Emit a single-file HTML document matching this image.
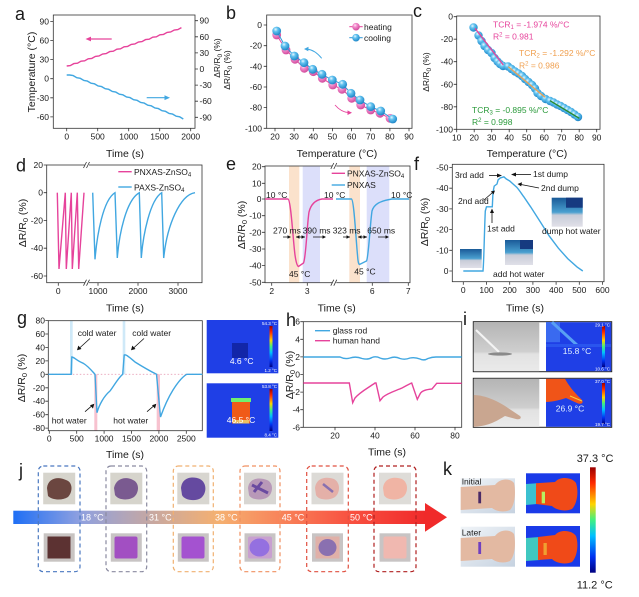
<!DOCTYPE html>
<html><head><meta charset="utf-8"><style>
body{margin:0;background:#fff}
svg{display:block}
text{font-family:"Liberation Sans",Arial,sans-serif;fill:#1a1a1a}
.tk{font-size:8.5px}
.tl{font-size:10.5px}
.lt{font-size:18px}
.an{font-size:8.5px}
.sm{font-size:4.5px;fill:#fff}
.ax{fill:none;stroke:#333;stroke-width:0.8}
.tm{stroke:#333;stroke-width:0.8;fill:none}
.pk{fill:none;stroke:#e6439b;stroke-width:1.4}
.bl{fill:none;stroke:#41a7e1;stroke-width:1.4}
</style></head><body>
<svg width="639" height="597" viewBox="0 0 639 597" xmlns="http://www.w3.org/2000/svg">
<defs>
<radialGradient id="gb" cx="38%" cy="32%" r="70%"><stop offset="0" stop-color="#e8f7ff"/><stop offset="0.35" stop-color="#63c3f0"/><stop offset="1" stop-color="#1b84c6"/></radialGradient>
<radialGradient id="gp" cx="38%" cy="32%" r="70%"><stop offset="0" stop-color="#ffe6f4"/><stop offset="0.35" stop-color="#f28ccc"/><stop offset="1" stop-color="#d0479a"/></radialGradient>
<linearGradient id="cb" x1="0" y1="0" x2="0" y2="1"><stop offset="0" stop-color="#9a0000"/><stop offset="0.15" stop-color="#ff2a00"/><stop offset="0.35" stop-color="#ffd400"/><stop offset="0.5" stop-color="#40f080"/><stop offset="0.65" stop-color="#00c0ff"/><stop offset="0.85" stop-color="#0030f0"/><stop offset="1" stop-color="#000080"/></linearGradient>
<linearGradient id="arr" x1="0" y1="0" x2="1" y2="0"><stop offset="0" stop-color="#1f6ff5"/><stop offset="0.16" stop-color="#8ea0e0"/><stop offset="0.34" stop-color="#c8a8a0"/><stop offset="0.5" stop-color="#f5b070"/><stop offset="0.66" stop-color="#f88058"/><stop offset="0.82" stop-color="#f85040"/><stop offset="1" stop-color="#f02a2a"/></linearGradient>
<linearGradient id="fi" x1="0" y1="0" x2="0" y2="1"><stop offset="0" stop-color="#1a5a98"/><stop offset="0.5" stop-color="#4aa0d0"/><stop offset="0.6" stop-color="#c8ccd8"/><stop offset="1" stop-color="#e0e0e8"/></linearGradient>
<linearGradient id="ph" x1="0" y1="0" x2="0" y2="1"><stop offset="0" stop-color="#b4b4b4"/><stop offset="0.6" stop-color="#cfcfcf"/><stop offset="0.65" stop-color="#e2e2e2"/><stop offset="1" stop-color="#eaeaea"/></linearGradient>
<linearGradient id="hb" x1="0" y1="0" x2="1" y2="1"><stop offset="0" stop-color="#f0f4f8"/><stop offset="1" stop-color="#c6d2e0"/></linearGradient>
</defs>

<!-- ============ a ============ -->
<text class="lt" x="15" y="20">a</text>
<rect class="ax" x="53.3" y="15" width="141.7" height="113.3"/>
<path class="tm" d="M50.3,21.4h3M50.3,40.5h3M50.3,59.6h3M50.3,78.7h3M50.3,97.8h3M50.3,116.9h3M195,20.7h3M195,36.8h3M195,52.9h3M195,69h3M195,85.1h3M195,101.2h3M195,117.3h3M66.7,128.3v3M97.7,128.3v3M128.7,128.3v3M159.7,128.3v3M190.7,128.3v3"/>
<g class="tk" text-anchor="end"><text x="49" y="24.4">90</text><text x="49" y="43.5">60</text><text x="49" y="62.6">30</text><text x="49" y="81.7">0</text><text x="49" y="100.8">-30</text><text x="49" y="119.9">-60</text></g>
<g class="tk"><text x="199.5" y="23.7">90</text><text x="199.5" y="39.8">60</text><text x="199.5" y="55.9">30</text><text x="199.5" y="72">0</text><text x="199.5" y="88.1">-30</text><text x="199.5" y="104.2">-60</text><text x="199.5" y="120.3">-90</text></g>
<g class="tk" text-anchor="middle"><text x="66.7" y="139.5">0</text><text x="97.7" y="139.5">500</text><text x="128.7" y="139.5">1000</text><text x="159.7" y="139.5">1500</text><text x="190.7" y="139.5">2000</text></g>
<text class="tl" x="125" y="157" text-anchor="middle">Time (s)</text>
<text class="tl" transform="translate(35,72) rotate(-90)" text-anchor="middle">Temperature (°C)</text>
<text class="tk" transform="translate(220,58) rotate(-90)" text-anchor="middle" font-size="9.5">ΔR/R<tspan font-size="6.5" dy="2">0</tspan><tspan dy="-2"> (%)</tspan></text>
<path class="pk" d="M66.7,66 l3.6,-0.4 l3.57,-2 l3.6,-0.4 l3.57,-2 l3.6,-0.4 l3.57,-2 l3.6,-0.4 l3.57,-2 l3.6,-0.4 l3.57,-2 l3.6,-0.4 l3.57,-2 l3.6,-0.4 l3.57,-2 l3.6,-0.4 l3.57,-2 l3.6,-0.4 l3.57,-2 l3.6,-0.4 l3.57,-2 l3.6,-0.4 l3.57,-2 l3.6,-0.4 l3.57,-2 l3.6,-0.4 l3.57,-2 l3.6,-0.4 l3.57,-2 l3.6,-0.4 l3.57,-2 l3.6,-0.4 l3.57,-2"/>
<path class="bl" d="M66.7,75 l3,0 l3.5,0.6 l3.6,2.15 l3.5,0.6 l3.6,2.15 l3.5,0.6 l3.6,2.15 l3.5,0.6 l3.6,2.15 l3.5,0.6 l3.6,2.15 l3.5,0.6 l3.6,2.15 l3.5,0.6 l3.6,2.15 l3.5,0.6 l3.6,2.15 l3.5,0.6 l3.6,2.15 l3.5,0.6 l3.6,2.15 l3.5,0.6 l3.6,2.15 l3.5,0.6 l3.6,2.15 l3.5,0.6 l3.6,2.15 l3.5,0.6 l3.6,2.15 l3.5,0.6 l3.6,2.15 l3.5,0.6 l3.6,2.15"/>
<path d="M111.7,39H89" stroke="#e6439b" stroke-width="1.2"/><polygon points="85.5,39 91,36.6 91,41.4" fill="#e6439b"/>
<path d="M146.7,97.7H166" stroke="#41a7e1" stroke-width="1.2"/><polygon points="170,97.7 164.5,95.3 164.5,100.1" fill="#41a7e1"/>

<!-- ============ b ============ -->
<text class="lt" x="226" y="19">b</text>
<text class="tk" transform="translate(230,70) rotate(-90)" text-anchor="middle" font-size="9.5">ΔR/R<tspan font-size="6.5" dy="2">0</tspan><tspan dy="-2"> (%)</tspan></text>
<rect class="ax" x="266.7" y="15" width="145.3" height="113.3"/>
<path class="tm" d="M263.7,25h3M263.7,45.7h3M263.7,66.3h3M263.7,87h3M263.7,107.6h3M263.7,128.3h3M275,128.3v3M294.1,128.3v3M313.3,128.3v3M332.4,128.3v3M351.6,128.3v3M370.7,128.3v3M389.9,128.3v3M409,128.3v3"/>
<g class="tk" text-anchor="end"><text x="262" y="28">0</text><text x="262" y="48.7">-20</text><text x="262" y="69.3">-40</text><text x="262" y="90">-60</text><text x="262" y="110.6">-80</text><text x="262" y="131.3">-100</text></g>
<g class="tk" text-anchor="middle"><text x="275" y="139.5">20</text><text x="294.1" y="139.5">30</text><text x="313.3" y="139.5">40</text><text x="332.4" y="139.5">50</text><text x="351.6" y="139.5">60</text><text x="370.7" y="139.5">70</text><text x="389.9" y="139.5">80</text><text x="409" y="139.5">90</text></g>
<text class="tl" x="337" y="157" text-anchor="middle">Temperature (°C)</text>
<polyline fill="none" stroke="#e6439b" stroke-width="1" points="276.7,35 286,50 295,59.3 304.3,68.3 313.3,71.7 322.3,78.3 332.7,85 342,89.3 351.7,98.3 360.7,105 370.7,110 380,113.3 390,118.3"/>
<g fill="url(#gp)"><circle cx="276.7" cy="35" r="4.4"/><circle cx="286" cy="50" r="4.4"/><circle cx="295" cy="59.3" r="4.4"/><circle cx="304.3" cy="68.3" r="4.4"/><circle cx="313.3" cy="71.7" r="4.4"/><circle cx="322.3" cy="78.3" r="4.4"/><circle cx="332.7" cy="85" r="4.4"/><circle cx="342" cy="89.3" r="4.4"/><circle cx="351.7" cy="98.3" r="4.4"/><circle cx="360.7" cy="105" r="4.4"/><circle cx="370.7" cy="110" r="4.4"/><circle cx="380" cy="113.3" r="4.4"/><circle cx="390" cy="118.3" r="4.4"/></g>
<polyline fill="none" stroke="#2f96d6" stroke-width="1" points="276.7,31 285,46 294.3,56 304,62.7 312.7,69.3 322,74.3 332.3,80 342.7,84.3 351,93.3 360,100 370.7,106.7 380.7,111 392.7,119"/>
<g fill="url(#gb)"><circle cx="276.7" cy="31" r="4.4"/><circle cx="285" cy="46" r="4.4"/><circle cx="294.3" cy="56" r="4.4"/><circle cx="304" cy="62.7" r="4.4"/><circle cx="312.7" cy="69.3" r="4.4"/><circle cx="322" cy="74.3" r="4.4"/><circle cx="332.3" cy="80" r="4.4"/><circle cx="342.7" cy="84.3" r="4.4"/><circle cx="351" cy="93.3" r="4.4"/><circle cx="360" cy="100" r="4.4"/><circle cx="370.7" cy="106.7" r="4.4"/><circle cx="380.7" cy="111" r="4.4"/><circle cx="392.7" cy="119" r="4.4"/></g>
<path d="M349.3,26.7h13.4" stroke="#e6439b" stroke-width="1"/><circle cx="356" cy="26.7" r="3.8" fill="url(#gp)"/>
<path d="M349.3,37.7h13.4" stroke="#2f96d6" stroke-width="1"/><circle cx="356" cy="37.7" r="3.8" fill="url(#gb)"/>
<text class="an" x="364" y="30">heating</text><text class="an" x="364" y="41">cooling</text>
<path d="M321.7,58.3 Q315,50 307,49" fill="none" stroke="#41a7e1" stroke-width="0.9"/><polygon points="304,49 308.5,46.8 308.3,51.2" fill="#41a7e1"/>
<path d="M335,105 Q341,112 348.5,112.6" fill="none" stroke="#e6439b" stroke-width="0.9"/><polygon points="352,112.7 347.5,110.4 347.5,115" fill="#e6439b"/>

<!-- ============ c ============ -->
<text class="lt" x="413" y="17">c</text>
<rect class="ax" x="456.7" y="16" width="143.3" height="113.3"/>
<path class="tm" d="M453.7,16.7h3M453.7,39.2h3M453.7,61.7h3M453.7,84.3h3M453.7,106.8h3M453.7,129.3h3M456.7,129.3v3M474.2,129.3v3M491.7,129.3v3M509.2,129.3v3M526.7,129.3v3M544.2,129.3v3M561.7,129.3v3M579.2,129.3v3M596.7,129.3v3"/>
<g class="tk" text-anchor="end"><text x="453" y="19.7">0</text><text x="453" y="42.2">-20</text><text x="453" y="64.7">-40</text><text x="453" y="87.3">-60</text><text x="453" y="109.8">-80</text><text x="453" y="132.3">-100</text></g>
<g class="tk" text-anchor="middle"><text x="456.7" y="140.5">10</text><text x="474.2" y="140.5">20</text><text x="491.7" y="140.5">30</text><text x="509.2" y="140.5">40</text><text x="526.7" y="140.5">50</text><text x="544.2" y="140.5">60</text><text x="561.7" y="140.5">70</text><text x="579.2" y="140.5">80</text><text x="596.7" y="140.5">90</text></g>
<text class="tl" x="527" y="157" text-anchor="middle">Temperature (°C)</text>
<text class="tk" transform="translate(429,72) rotate(-90)" text-anchor="middle" font-size="9.5">ΔR/R<tspan font-size="6.5" dy="2">0</tspan><tspan dy="-2"> (%)</tspan></text>
<g fill="url(#gb)"><circle cx="473.5" cy="27.5" r="4.2"/><circle cx="478.5" cy="35.5" r="4.2"/><circle cx="481.5" cy="41" r="4.2"/><circle cx="484.5" cy="46" r="4.2"/><circle cx="488" cy="50" r="4.2"/><circle cx="491.5" cy="53" r="4.2"/><circle cx="494.5" cy="58" r="4.2"/><circle cx="497.5" cy="61.5" r="4.2"/><circle cx="500" cy="64" r="4.2"/><circle cx="503" cy="66" r="4.2"/><circle cx="508" cy="66.5" r="4.2"/><circle cx="511.5" cy="69" r="4.2"/><circle cx="515" cy="71.5" r="4.2"/><circle cx="518.5" cy="73.5" r="4.2"/><circle cx="522" cy="76" r="4.2"/><circle cx="525" cy="79" r="4.2"/><circle cx="528.5" cy="82" r="4.2"/><circle cx="532" cy="85" r="4.2"/><circle cx="535" cy="88.5" r="4.2"/><circle cx="537.5" cy="93" r="4.2"/><circle cx="541" cy="96" r="4.2"/><circle cx="545.5" cy="99" r="4.2"/><circle cx="550" cy="101" r="4.2"/><circle cx="553.5" cy="102.5" r="4.2"/><circle cx="557" cy="104.5" r="4.2"/><circle cx="560.5" cy="106" r="4.2"/><circle cx="564" cy="108" r="4.2"/><circle cx="567.5" cy="110" r="4.2"/><circle cx="571" cy="112" r="4.2"/><circle cx="574.5" cy="114.5" r="4.2"/><circle cx="578" cy="117" r="4.2"/></g>
<path d="M475,28.3L503.3,65" stroke="#e6439b" stroke-width="1.3"/>
<path d="M508.3,66.7L545,97.3" stroke="#f0a050" stroke-width="1.3"/>
<path d="M550,100.7L579.3,118.3" stroke="#2a8a2a" stroke-width="1.3"/>
<g class="an"><text x="493" y="27.7" style="fill:#e6439b">TCR<tspan font-size="6" dy="1.5">1</tspan><tspan dy="-1.5"> = -1.974 %/°C</tspan></text>
<text x="493" y="39.7" style="fill:#e6439b">R<tspan font-size="6" dy="-3">2</tspan><tspan dy="3"> = 0.981</tspan></text>
<text x="519" y="56" style="fill:#f0a050">TCR<tspan font-size="6" dy="1.5">2</tspan><tspan dy="-1.5"> = -1.292 %/°C</tspan></text>
<text x="519" y="68.7" style="fill:#f0a050">R<tspan font-size="6" dy="-3">2</tspan><tspan dy="3"> = 0.986</tspan></text>
<text x="472" y="113" style="fill:#2a9a3a">TCR<tspan font-size="6" dy="1.5">3</tspan><tspan dy="-1.5"> = -0.895 %/°C</tspan></text>
<text x="472" y="125" style="fill:#2a9a3a">R<tspan font-size="6" dy="-3">2</tspan><tspan dy="3"> = 0.998</tspan></text></g>

<!-- ============ d ============ -->
<text class="lt" x="16" y="171.5">d</text>
<rect class="ax" x="46.7" y="165" width="155.3" height="117.7"/>
<rect x="85" y="162" width="4" height="6" fill="#fff"/><rect x="85" y="279.7" width="4" height="6" fill="#fff"/>
<path class="tm" d="M83.5,168l3,-6M86.5,168l3,-6M83.5,285.7l3,-6M86.5,285.7l3,-6"/>
<path class="tm" d="M43.7,165h3M43.7,192.7h3M43.7,220.5h3M43.7,248.2h3M43.7,276h3M58.3,282.7v3M98,282.7v3M138,282.7v3M178,282.7v3"/>
<g class="tk" text-anchor="end"><text x="43" y="168">20</text><text x="43" y="195.7">0</text><text x="43" y="223.5">-20</text><text x="43" y="251.2">-40</text><text x="43" y="279">-60</text></g>
<g class="tk" text-anchor="middle"><text x="58.3" y="294">0</text><text x="98" y="294">1000</text><text x="138" y="294">2000</text><text x="178" y="294">3000</text></g>
<text class="tl" x="125" y="311.7" text-anchor="middle">Time (s)</text>
<text class="tl" transform="translate(26,223) rotate(-90)" text-anchor="middle">ΔR/R<tspan font-size="7.5" dy="2">0</tspan><tspan dy="-2"> (%)</tspan></text>
<polyline class="pk" points="57.3,192.7 59,269 65.3,192.7 66.3,269 71.3,192.7 72.3,269 77.3,192.7 78.7,269 84,192.7"/>
<path class="bl" d="M92.7,192.7 L95,259.3 C97,235 103,200 115,192.7 L117.3,258 C119,235 126,200 139.3,192.7 L141.3,258 C143,235 150,200 161.7,192.7 L163.7,258 C167,225 180,195 195,192.7"/>
<path d="M118.3,171.7h13.4" stroke="#e6439b" stroke-width="1.4"/><path d="M118.3,187h13.4" stroke="#41a7e1" stroke-width="1.4"/>
<text class="an" x="134" y="175">PNXAS-ZnSO<tspan font-size="6" dy="1.5">4</tspan></text>
<text class="an" x="134" y="190.3">PAXS-ZnSO<tspan font-size="6" dy="1.5">4</tspan></text>

<!-- ============ e ============ -->
<text class="lt" x="226" y="170">e</text>
<rect x="289" y="166" width="10.3" height="116.7" fill="#fbe2cc"/>
<rect x="302.7" y="166" width="17.3" height="116.7" fill="#dcdffa"/>
<rect x="349.3" y="166" width="10.7" height="116.7" fill="#fbe2cc"/>
<rect x="366.7" y="166" width="22.6" height="116.7" fill="#dcdffa"/>
<rect class="ax" x="265" y="166" width="145" height="116.7"/>
<rect x="332.3" y="163" width="4" height="6" fill="#fff"/><rect x="332.3" y="279.7" width="4" height="6" fill="#fff"/>
<path class="tm" d="M330.8,169l3,-6M333.8,169l3,-6M330.8,285.7l3,-6M333.8,285.7l3,-6"/>
<path class="tm" d="M262,166.7h3M262,183.3h3M262,199h3M262,215.7h3M262,232.3h3M262,249h3M262,265.6h3M262,282.3h3M271.7,282.7v3M307.3,282.7v3M372.3,282.7v3M408.3,282.7v3"/>
<g class="tk" text-anchor="end"><text x="261.5" y="169.7">20</text><text x="261.5" y="186.3">10</text><text x="261.5" y="202">0</text><text x="261.5" y="218.7">-10</text><text x="261.5" y="235.3">-20</text><text x="261.5" y="252">-30</text><text x="261.5" y="268.6">-40</text><text x="261.5" y="285.3">-50</text></g>
<g class="tk" text-anchor="middle"><text x="271.7" y="294">2</text><text x="307.3" y="294">3</text><text x="372.3" y="294">6</text><text x="408.3" y="294">7</text></g>
<text class="tl" x="336.7" y="311.7" text-anchor="middle">Time (s)</text>
<text class="tl" transform="translate(245,225) rotate(-90)" text-anchor="middle">ΔR/R<tspan font-size="7.5" dy="2">0</tspan><tspan dy="-2"> (%)</tspan></text>
<path class="pk" d="M265,199 L288,199 C291,200 293,240 295,255 C296,262 297,266 298.5,266.5 L303.5,263 C306,258 307,225 309,212 C311,204 316,200 322,199 L333,199"/>
<path class="bl" d="M336,199 L351.5,199 C354,200 356,240 357.5,255 C358,262 358.5,264 359.5,264.5 L366.5,261 C368.5,258 370,225 372,211 C374,204 380,201 392,199 L409,199"/>
<path d="M331.7,173.3h13.3" stroke="#e6439b" stroke-width="1.4"/><path d="M331.7,185h13.3" stroke="#41a7e1" stroke-width="1.4"/>
<text class="an" x="347" y="176.5">PNXAS-ZnSO<tspan font-size="6" dy="1.5">4</tspan></text>
<text class="an" x="347" y="188">PNXAS</text>
<g class="an"><text x="266" y="198">10 °C</text><text x="324" y="198">10 °C</text><text x="391" y="198">10 °C</text>
<text x="273" y="233.5">270 ms</text><text x="302.7" y="233.5">390 ms</text><text x="332.7" y="233.5">323 ms</text><text x="367.3" y="233.5">650 ms</text>
<text x="289" y="277">45 °C</text><text x="354.3" y="274.5">45 °C</text></g>
<path d="M283,237h7M296,237h9M313,237h12M343,237h7M358,237h9M378,237h10" stroke="#111" stroke-width="0.8"/>
<g fill="#111"><polygon points="291,237 287.5,235.3 287.5,238.7"/><polygon points="296,237 299.5,235.3 299.5,238.7"/><polygon points="305,237 301.5,235.3 301.5,238.7"/><polygon points="326,237 322.5,235.3 322.5,238.7"/><polygon points="350,237 346.5,235.3 346.5,238.7"/><polygon points="358,237 361.5,235.3 361.5,238.7"/><polygon points="367,237 363.5,235.3 363.5,238.7"/><polygon points="389,237 385.5,235.3 385.5,238.7"/></g>

<!-- ============ f ============ -->
<text class="lt" x="414" y="170">f</text>
<rect class="ax" x="452.3" y="164.3" width="151.7" height="117.4"/>
<path class="tm" d="M449.3,167.5h3M449.3,188.2h3M449.3,208.9h3M449.3,229.6h3M449.3,250.3h3M449.3,271h3M463.3,281.7v3M486.5,281.7v3M509.7,281.7v3M532.9,281.7v3M556.1,281.7v3M579.3,281.7v3M602.5,281.7v3"/>
<g class="tk" text-anchor="end"><text x="448.5" y="170.5">-50</text><text x="448.5" y="191.2">-40</text><text x="448.5" y="211.9">-30</text><text x="448.5" y="232.6">-20</text><text x="448.5" y="253.3">-10</text><text x="448.5" y="274">0</text></g>
<g class="tk" text-anchor="middle"><text x="463.3" y="293">0</text><text x="486.5" y="293">100</text><text x="509.7" y="293">200</text><text x="532.9" y="293">300</text><text x="556.1" y="293">400</text><text x="579.3" y="293">500</text><text x="602.5" y="293">600</text></g>
<text class="tl" x="525" y="311.7" text-anchor="middle">Time (s)</text>
<text class="tl" transform="translate(428,222) rotate(-90)" text-anchor="middle">ΔR/R<tspan font-size="7.5" dy="2">0</tspan><tspan dy="-2"> (%)</tspan></text>
<rect x="460" y="249" width="21.7" height="19" fill="url(#fi)"/>
<rect x="505" y="240" width="28" height="25" fill="url(#fi)"/><rect x="520" y="240" width="13" height="9" fill="#163a80"/>
<rect x="551.7" y="197.7" width="31" height="29" fill="url(#fi)"/><rect x="566" y="197.7" width="16.7" height="10" fill="#163a80"/>
<path class="bl" d="M463.3,271 L483,271 C484,260 484.2,235 485.3,211 L486.5,206.8 L492.3,206.8 L493,192.3 L494.2,186.1 L497,184 L498.1,179.9 L500.4,177.9 L503.9,176.8 L506.2,178.9 L509.7,181 L513.2,184.1 L516.7,187.2 C520,191 523,196 523.6,196.5 L530.6,206.8 L539.9,221.3 L549.1,235.8 L558.4,248.2 L567.7,258.6 L577,266.9 L582.8,271"/>
<g class="an"><text x="455" y="178">3rd add</text><text x="533" y="177">1st dump</text><text x="541" y="191">2nd dump</text><text x="458" y="204">2nd add</text><text x="487" y="231.5">1st add</text><text x="542" y="234">dump hot water</text><text x="493" y="277">add hot water</text></g>
<g stroke="#111" stroke-width="0.8"><path d="M489,175.5h9"/><path d="M531,174.5h-16"/><path d="M539,188l-18,-3.5"/><path d="M484,200l8,-7"/><path d="M492,223v-11"/></g>
<g fill="#111"><polygon points="502,175.5 497,173.5 497,177.5"/><polygon points="511,174.5 516,172.5 516,176.5"/><polygon points="517.5,184 522,182.2 521.2,186.4"/><polygon points="495,190.5 490.8,191.5 493.5,194.5"/><polygon points="492,208.5 490,213 494,213"/></g>

<!-- ============ g ============ -->
<text class="lt" x="17" y="324">g</text>
<rect x="70" y="320.7" width="2.7" height="53.6" fill="#cfe9f8"/>
<rect x="94.3" y="374.3" width="3" height="56.4" fill="#f7c2cf"/>
<rect x="122.7" y="320.7" width="2.6" height="53.6" fill="#cfe9f8"/>
<rect x="156.7" y="374.3" width="3.3" height="56.4" fill="#f7c2cf"/>
<rect class="ax" x="48.3" y="320.7" width="154" height="110"/>
<path d="M48.3,374.3H202.3" stroke="#e8a0b8" stroke-width="0.8" stroke-dasharray="1.5,2"/>
<path class="tm" d="M45.3,320.5h3M45.3,334h3M45.3,347.4h3M45.3,360.9h3M45.3,374.3h3M45.3,387.8h3M45.3,401.2h3M45.3,414.7h3M45.3,428.1h3M49.3,430.7v3M76.7,430.7v3M104.1,430.7v3M131.5,430.7v3M158.9,430.7v3M186.3,430.7v3"/>
<g class="tk" text-anchor="end"><text x="45" y="323.5">80</text><text x="45" y="337">60</text><text x="45" y="350.4">40</text><text x="45" y="363.9">20</text><text x="45" y="377.3">0</text><text x="45" y="390.8">-20</text><text x="45" y="404.2">-40</text><text x="45" y="417.7">-60</text><text x="45" y="431.1">-80</text></g>
<g class="tk" text-anchor="middle"><text x="49.3" y="441.5">0</text><text x="76.7" y="441.5">500</text><text x="104.1" y="441.5">1000</text><text x="131.5" y="441.5">1500</text><text x="158.9" y="441.5">2000</text><text x="186.3" y="441.5">2500</text></g>
<text class="tl" x="125" y="458" text-anchor="middle">Time (s)</text>
<text class="tl" transform="translate(25,378) rotate(-90)" text-anchor="middle">ΔR/R<tspan font-size="7.5" dy="2">0</tspan><tspan dy="-2"> (%)</tspan></text>
<path class="bl" d="M48.3,374.3 L71.2,374.3 L71.8,357 C74,357 77,361 83.3,363.3 C88,366 92,371 95,374.3 L97,412.7 C99,405 104,396 110,391 C114,386 118,378 122.7,374.3 L124.2,355 C126,354 129,357 135,362 C143,367 150,371 156.5,374.3 L160.5,417 C163,410 168,398 173,390 C178,382 182,377 186.7,374.3 L202.3,374.3"/>
<g class="an"><text x="77.7" y="336">cold water</text><text x="132.3" y="336">cold water</text><text x="51.7" y="423.5">hot water</text><text x="113.3" y="423.5">hot water</text></g>
<g stroke="#111" stroke-width="0.8"><path d="M90,338.5l-11,10"/><path d="M144,338.5l-11,10"/><path d="M85,411.7l7,-6"/><path d="M147,411.7l7,-6"/></g>
<g fill="#111"><polygon points="77,350.3 78.3,345.6 81.5,349"/><polygon points="131,350.3 132.3,345.6 135.5,349"/><polygon points="94.3,403.7 90,405.3 93,408.6"/><polygon points="156.3,403.7 152,405.3 155,408.6"/></g>
<rect x="206.7" y="320" width="71.6" height="53.3" fill="#1f3fe6"/>
<rect x="232" y="343" width="16" height="15" fill="#1226a8"/>
<rect x="269.5" y="326" width="3" height="41" fill="url(#cb)"/>
<text x="241.7" y="364" class="an" text-anchor="middle" style="fill:#fff">4.6 °C</text>
<text x="277" y="325" class="sm" text-anchor="end">54.3 °C</text><text x="277" y="372" class="sm" text-anchor="end">1.2 °C</text>
<rect x="206.7" y="383.3" width="71.6" height="54.4" fill="#1f3fe6"/>
<rect x="232" y="400" width="18" height="23.5" fill="#f05a18"/>
<rect x="231" y="398" width="20" height="4" fill="#70f070"/>
<rect x="233" y="420" width="16" height="3.5" fill="#f0c060"/>
<rect x="269.5" y="389" width="3" height="42" fill="url(#cb)"/>
<text x="241" y="423" class="an" text-anchor="middle" style="fill:#fff">46.5 °C</text>
<text x="277" y="388" class="sm" text-anchor="end">53.8 °C</text><text x="277" y="436.5" class="sm" text-anchor="end">8.4 °C</text>

<!-- ============ h ============ -->
<text class="lt" x="286" y="326">h</text>
<rect class="ax" x="303.3" y="321.7" width="158.4" height="105.6"/>
<path class="tm" d="M300.3,321.7h3M300.3,339.3h3M300.3,356.9h3M300.3,374.5h3M300.3,392.1h3M300.3,409.7h3M300.3,427.3h3M335,427.3v3M375,427.3v3M415,427.3v3M455,427.3v3"/>
<g class="tk" text-anchor="end"><text x="300" y="324.7">6</text><text x="300" y="342.3">4</text><text x="300" y="359.9">2</text><text x="300" y="377.5">0</text><text x="300" y="395.1">-2</text><text x="300" y="412.7">-4</text><text x="300" y="430.3">-6</text></g>
<g class="tk" text-anchor="middle"><text x="335" y="438.5">20</text><text x="375" y="438.5">40</text><text x="415" y="438.5">60</text><text x="455" y="438.5">80</text></g>
<text class="tl" x="387" y="455.5" text-anchor="middle">Time (s)</text>
<text class="tl" transform="translate(293,375) rotate(-90)" text-anchor="middle">ΔR/R<tspan font-size="7.5" dy="2">0</tspan><tspan dy="-2"> (%)</tspan></text>
<path class="bl" d="M303.3,357 L340,357 Q345,359.5 350,358 Q356,356 362,358.5 Q368,360 372,357.5 Q376,356 380,358 Q385,360 390,358 Q395,356 400,358.5 Q405,360 410,358 Q415,357 420,359 Q424,361 428,358.5 Q432,357 436,357 L461.7,357"/>
<path class="pk" d="M303.3,383 L349.3,383 L352.7,402.7 L355,398 C360,392 368,388 375,383 L376,383 L380,400.7 L383,397 C388,393 395,391 402,388 C406,386 409,384 411.7,383 L417.3,399.3 L420,394 C422,390 428,389.5 432,389 L436.7,383.3 L461.7,383.3"/>
<path d="M315,330.7h15" stroke="#41a7e1" stroke-width="1.4"/><path d="M315,340.7h15" stroke="#e6439b" stroke-width="1.4"/>
<text class="an" x="332.7" y="333.7">glass rod</text><text class="an" x="332.7" y="343.7">human hand</text>

<!-- ============ i ============ -->
<text class="lt" x="463" y="325">i</text>
<rect x="473.3" y="321.7" width="138.4" height="50" fill="#fff" stroke="#222" stroke-width="1"/>
<rect x="473.8" y="322.2" width="65.5" height="49" fill="url(#ph)"/>
<path d="M476,330 L499,352" stroke="#f4f4f4" stroke-width="2.2"/>
<ellipse cx="500" cy="354" rx="12" ry="1.6" fill="#8a8a8a"/>
<rect x="546" y="322.2" width="65.2" height="49" fill="#1f3fe6"/>
<rect x="546" y="322.2" width="14" height="20" fill="#3a6af0"/>
<path d="M552,322.2 L578,346" stroke="#58a0f4" stroke-width="3"/>
<rect x="546" y="344" width="65" height="3" fill="#2a55ee"/>
<rect x="602" y="326" width="3" height="41" fill="url(#cb)"/>
<text x="577" y="354" class="an" text-anchor="middle" style="fill:#e0f0ff">15.8 °C</text>
<text x="610" y="326.5" class="sm" text-anchor="end">29.1 °C</text><text x="610" y="370.5" class="sm" text-anchor="end">10.6 °C</text>
<rect x="473.3" y="378.3" width="138.4" height="49" fill="#fff" stroke="#222" stroke-width="1"/>
<rect x="473.8" y="378.8" width="65.5" height="48" fill="url(#ph)"/>
<path d="M473.8,395 C485,395 500,402 508,408 L520,416 C522,418 520,420 516,419 L505,416 C498,420 490,426 473.8,426.8 Z" fill="#c9a690"/>
<rect x="546" y="378.8" width="65.2" height="48" fill="#1f3fe6"/>
<path d="M546,378.8 L565,378.8 C570,388 576,394 582,400 C584,403 581,405 577,403 L566,398 C560,400 552,402 546,402 Z" fill="#f05418"/>
<path d="M570,396 L582,401" stroke="#f0d040" stroke-width="1"/>
<rect x="602" y="383" width="3" height="41" fill="url(#cb)"/>
<text x="570" y="411.7" class="an" text-anchor="middle" style="fill:#e0f0ff">26.9 °C</text>
<text x="610" y="383" class="sm" text-anchor="end">37.0 °C</text><text x="610" y="426" class="sm" text-anchor="end">19.7 °C</text>

<!-- ============ j ============ -->
<text class="lt" x="19" y="476.7">j</text>
<rect x="13.3" y="510.7" width="412" height="13.3" fill="url(#arr)"/>
<polygon points="425,503 447,517.3 425,531.7" fill="#f02a2a"/>
<g font-size="9"><text x="81" y="520.5" style="fill:#fff">18 °C</text><text x="149" y="520.5" style="fill:#fff">31 °C</text><text x="215" y="520.5" style="fill:#fff">38 °C</text><text x="281.7" y="520.5" style="fill:#fff">45 °C</text><text x="350" y="520.5" style="fill:#fff">50 °C</text></g>
<g>
<rect x="43.2" y="472.7" width="32" height="31.6" fill="#d6d4cc"/><path d="M47,488 C48,478 58,476 66,480 C73,482 73,492 68,497 C62,501 52,500 48,496 Z" fill="#6b4640"/>
<rect x="110.3" y="472.7" width="32" height="31.6" fill="#d6d4cc"/><path d="M114,488 C116,478 126,476 133,480 C140,483 139,493 134,497 C128,501 118,500 115,495 Z" fill="#7a5a90"/>
<rect x="177.3" y="472.7" width="32" height="31.6" fill="#d8d6d0"/><path d="M181,488 C182,477 193,476 200,479 C207,483 207,493 201,498 C195,502 184,500 182,495 Z" fill="#654aa0"/>
<rect x="244" y="472.7" width="32" height="31.6" fill="#d8d6d2"/><path d="M248,488 C249,478 259,477 267,480 C274,483 273,493 268,497 C262,501 251,500 249,495 Z" fill="#b898b8"/><path d="M252,485 L268,493 M254,492 L262,482" stroke="#6a4aa0" stroke-width="3"/>
<rect x="311.5" y="472.7" width="32" height="31.6" fill="#dcdad6"/><path d="M315,488 C316,478 326,476 334,479 C341,483 340,493 335,497 C329,501 318,500 316,495 Z" fill="#e4b0a8"/><path d="M323,484 L333,492" stroke="#8870b0" stroke-width="2.5"/>
<rect x="379" y="472.7" width="32" height="31.6" fill="#dedcd8"/><path d="M383,488 C384,478 394,476 402,479 C409,483 408,493 403,497 C397,501 386,500 384,495 Z" fill="#f0b4a4"/>
</g>
<g>
<rect x="43.7" y="533.3" width="31" height="28.4" fill="#c8c4c2"/><rect x="47.5" y="536.5" width="23" height="22" fill="#5c3232"/>
<rect x="110.8" y="533.3" width="31" height="28.4" fill="#c8c4c4"/><rect x="114.5" y="536.5" width="23" height="22" rx="2" fill="#a24fc2"/>
<rect x="177.8" y="533.3" width="31" height="28.4" fill="#c8c4c4"/><rect x="181.5" y="536.5" width="23" height="22" rx="2" fill="#a452d0"/>
<rect x="244.5" y="533.3" width="31" height="28.4" fill="#c8c4c4"/><rect x="248" y="536.5" width="24" height="22" rx="2" fill="#c8a0d0"/><ellipse cx="259.5" cy="547.5" rx="10" ry="9" fill="#9470e0"/>
<rect x="312" y="533.3" width="31" height="28.4" fill="#c8c4c4"/><rect x="315.5" y="536.5" width="24" height="22" fill="#e0b0a8"/><ellipse cx="327.5" cy="547.5" rx="9" ry="8.5" fill="#8a70b0"/>
<rect x="379.5" y="533.3" width="31" height="28.4" fill="#c8c4c4"/><rect x="383.5" y="536.5" width="23" height="22" rx="2" fill="#f0b8b0"/>
</g>
<g fill="none" stroke-width="1.2" stroke-dasharray="4,3">
<rect x="38.3" y="466" width="41.7" height="105.7" rx="5" stroke="#4a78c0"/>
<rect x="106" y="466" width="40.7" height="105.7" rx="5" stroke="#8a8aa0"/>
<rect x="173.3" y="466" width="40" height="105.7" rx="5" stroke="#f0b070"/>
<rect x="240" y="466" width="40" height="105.7" rx="5" stroke="#f09060"/>
<rect x="306.7" y="466" width="41.6" height="105.7" rx="5" stroke="#e05040"/>
<rect x="374" y="466" width="42" height="105.7" rx="5" stroke="#b02020"/>
</g>

<!-- ============ k ============ -->
<text class="lt" x="443" y="475">k</text>
<rect x="460.7" y="478.3" width="54.3" height="35" fill="url(#hb)"/>
<path d="M460.7,487 L495,485 C500,478 510,478 514,483 C516,492 515,505 510,510 C503,513 496,511 492,508 L460.7,510 Z" fill="#e3b9a2"/>
<rect x="478.3" y="491.7" width="2.8" height="11.6" fill="#4a2a66"/>
<text class="an" x="461.7" y="484.5" font-size="9">Initial</text>
<rect x="526" y="473.3" width="54" height="40" fill="#1a3ae8"/>
<path d="M526,484 L537,483.3 L537,504 L526,505 Z" fill="#3cc0d0"/>
<path d="M536,483.3 L555,482 C560,476 572,477 576,483 C579,492 577,504 572,509 C565,512 556,510 552,506 L536,504 Z" fill="#f04a18"/>
<rect x="541.7" y="491.7" width="3.3" height="11.6" fill="#b8f060"/>
<rect x="460.7" y="526.7" width="54.3" height="40" fill="url(#hb)"/>
<path d="M460.7,538 L495,536 C500,529 510,529 514,534 C516,543 515,556 510,561 C503,564 496,562 492,559 L460.7,561 Z" fill="#e3b9a2"/>
<rect x="478.3" y="542" width="2.8" height="12" fill="#7040c0"/>
<text class="an" x="461.7" y="535.5" font-size="9">Later</text>
<rect x="526" y="526" width="54" height="40.7" fill="#1a3ae8"/>
<path d="M526,538 L540,537 L540,560 L526,561 Z" fill="#40c8c0"/>
<path d="M538,537 L555,535 C560,529 572,530 576,536 C579,545 577,557 572,562 C565,565 556,563 552,559 L538,560 Z" fill="#f04a18"/>
<rect x="543.5" y="543" width="3.3" height="12" fill="#f0a030"/>
<rect x="590" y="467.3" width="5.7" height="105.4" fill="url(#cb)"/>
<text x="576.7" y="462" font-size="11">37.3 °C</text>
<text x="576.7" y="588.3" font-size="11">11.2 °C</text>
</svg>
</body></html>
